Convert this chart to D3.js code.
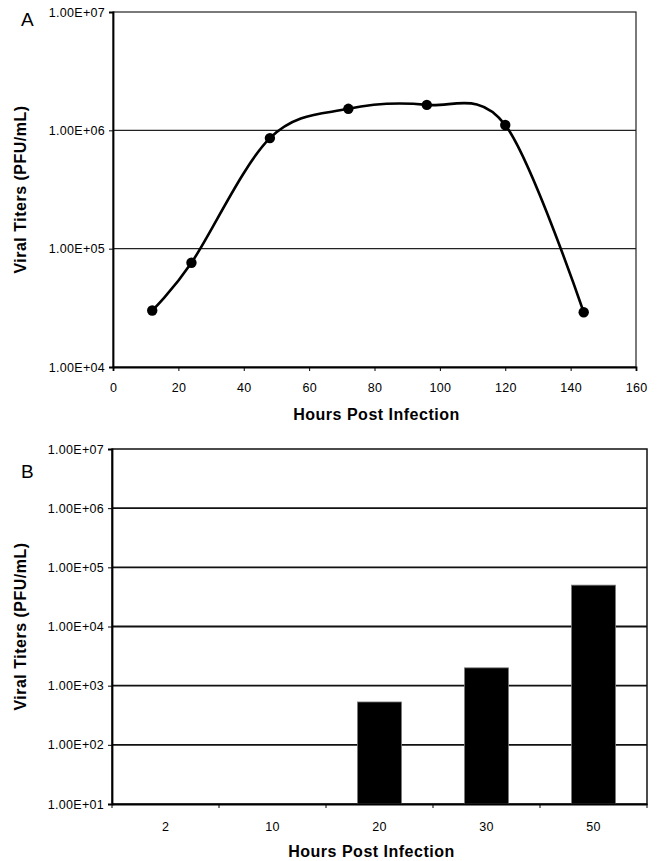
<!DOCTYPE html>
<html>
<head>
<meta charset="utf-8">
<script src="https://cdn.jsdelivr.net/npm/d3@7"></script>
<style>
  body { margin: 0; background: #fff; }
  svg text { font-family: "Liberation Sans", Arial, sans-serif; fill: #000; }
</style>
</head>
<body>
<div id="chart"></div>
<script>
// --- Data ---
// Panel A: growth curve
const hoursA = [12, 24, 48, 72, 96, 120, 144];
const titersA = [3.0e4, 7.6e4, 8.6e5, 1.52e6, 1.64e6, 1.11e6, 2.9e4];
const xTicksA = [0, 20, 40, 60, 80, 100, 120, 140, 160];
const yTicksA = [1e4, 1e5, 1e6, 1e7];

// Panel B: bar chart
const hoursB = ["2", "10", "20", "30", "50"];
const titersB = [null, null, 5.3e2, 2.0e3, 5.0e4];
const yTicksB = [1e1, 1e2, 1e3, 1e4, 1e5, 1e6, 1e7];

const W = 659, H = 861;
const svg = d3.select("#chart").append("svg")
  .attr("width", W).attr("height", H);

const fmt = v => {
  const e = Math.round(Math.log10(v));
  return "1.00E+" + String(e).padStart(2, "0");
};

function yAxisTitle(cy) {
  svg.append("text")
    .attr("transform", `translate(26,${cy}) rotate(-90)`)
    .attr("text-anchor", "middle")
    .attr("font-size", "16px")
    .attr("font-weight", "bold")
    .attr("letter-spacing", "0.5px")
    .text("Viral Titers (PFU/mL)");
}

function xAxisTitle(cx, y) {
  svg.append("text")
    .attr("x", cx).attr("y", y)
    .attr("text-anchor", "middle")
    .attr("font-size", "16px")
    .attr("font-weight", "bold")
    .attr("letter-spacing", "0.5px")
    .text("Hours Post Infection");
}

const styleTicks = (g, size) => g.selectAll("text")
  .attr("font-size", size)
  .attr("letter-spacing", "0.3px");

// ===================== Panel A =====================
const A = { left: 113, top: 12, width: 523, height: 355 };
const gA = svg.append("g").attr("transform", `translate(${A.left},${A.top})`);

const xA = d3.scaleLinear().domain([0, 160]).range([0, A.width]);
const yA = d3.scaleLog().domain([1e4, 1e7]).range([A.height, 0]);

// gridlines
gA.selectAll(".gridA")
  .data(yTicksA.slice(1, -1))
  .enter().append("line")
  .attr("x1", 0).attr("x2", A.width)
  .attr("y1", d => yA(d)).attr("y2", d => yA(d))
  .attr("stroke", "#222").attr("stroke-width", 1.2);

// frame
gA.append("rect")
  .attr("width", A.width).attr("height", A.height)
  .attr("fill", "none").attr("stroke", "#222").attr("stroke-width", 1.2);

// axes
gA.append("g")
  .attr("transform", `translate(0,${A.height})`)
  .call(d3.axisBottom(xA).tickValues(xTicksA).tickSize(4).tickPadding(12))
  .call(g => g.select(".domain").attr("stroke-width", 1.8))
  .call(g => styleTicks(g, "12.5px"));

gA.append("g")
  .call(d3.axisLeft(yA).tickValues(yTicksA).tickFormat(fmt).tickSize(4).tickPadding(4))
  .call(g => g.select(".domain").attr("stroke-width", 1.8))
  .call(g => styleTicks(g, "12.5px"));

// smoothed line
const lineA = d3.line()
  .x((d, i) => xA(hoursA[i]))
  .y(d => yA(d))
  .curve(d3.curveCatmullRom.alpha(0));

gA.append("path")
  .datum(titersA)
  .attr("d", lineA)
  .attr("fill", "none")
  .attr("stroke", "#000")
  .attr("stroke-width", 2.6);

gA.selectAll(".dot")
  .data(titersA)
  .enter().append("circle")
  .attr("cx", (d, i) => xA(hoursA[i]))
  .attr("cy", d => yA(d))
  .attr("r", 5.2)
  .attr("fill", "#000");

svg.append("text")
  .attr("x", 21).attr("y", 26)
  .attr("font-size", "19px")
  .text("A");

yAxisTitle(A.top + A.height / 2);
xAxisTitle(A.left + A.width / 2 + 2, 420);

// ===================== Panel B =====================
const B = { left: 112, top: 449, width: 535, height: 355 };
const gB = svg.append("g").attr("transform", `translate(${B.left},${B.top})`);

const xB = d3.scaleBand().domain(hoursB).range([0, B.width])
  .paddingInner(0.59).paddingOuter(0.295);
const yB = d3.scaleLog().domain([1e1, 1e7]).range([B.height, 0]);

gB.selectAll(".gridB")
  .data(yTicksB.slice(1, -1))
  .enter().append("line")
  .attr("x1", 0).attr("x2", B.width)
  .attr("y1", d => yB(d)).attr("y2", d => yB(d))
  .attr("stroke", "#111").attr("stroke-width", 1.8);

gB.append("rect")
  .attr("width", B.width).attr("height", B.height)
  .attr("fill", "none").attr("stroke", "#111").attr("stroke-width", 1.5);

// bars
gB.selectAll(".bar")
  .data(hoursB.map((h, i) => ({ h, v: titersB[i] })).filter(d => d.v))
  .enter().append("rect")
  .attr("x", d => xB(d.h))
  .attr("width", xB.bandwidth())
  .attr("y", d => yB(d.v))
  .attr("height", d => B.height - yB(d.v))
  .attr("fill", "#000")
  .attr("stroke", "#777")
  .attr("stroke-width", 0.8);

// x axis: labels centred, ticks at category boundaries
const step = xB.step();
gB.append("g")
  .attr("transform", `translate(0,${B.height})`)
  .call(d3.axisBottom(xB).tickSize(0).tickPadding(18))
  .call(g => g.select(".domain").attr("stroke-width", 1.8))
  .call(g => styleTicks(g, "12.5px"));

gB.selectAll(".catTick")
  .data(d3.range(hoursB.length + 1))
  .enter().append("line")
  .attr("x1", i => i * step).attr("x2", i => i * step)
  .attr("y1", B.height).attr("y2", B.height + 4)
  .attr("stroke", "#000");

gB.append("g")
  .call(d3.axisLeft(yB).tickValues(yTicksB).tickFormat(fmt).tickSize(4).tickPadding(4))
  .call(g => g.select(".domain").attr("stroke-width", 1.8))
  .call(g => styleTicks(g, "12.5px"));

svg.append("text")
  .attr("x", 21).attr("y", 478)
  .attr("font-size", "19px")
  .text("B");

yAxisTitle(B.top + B.height / 2);
xAxisTitle(B.left + B.width / 2 - 8, 857);
</script>
</body>
</html>
